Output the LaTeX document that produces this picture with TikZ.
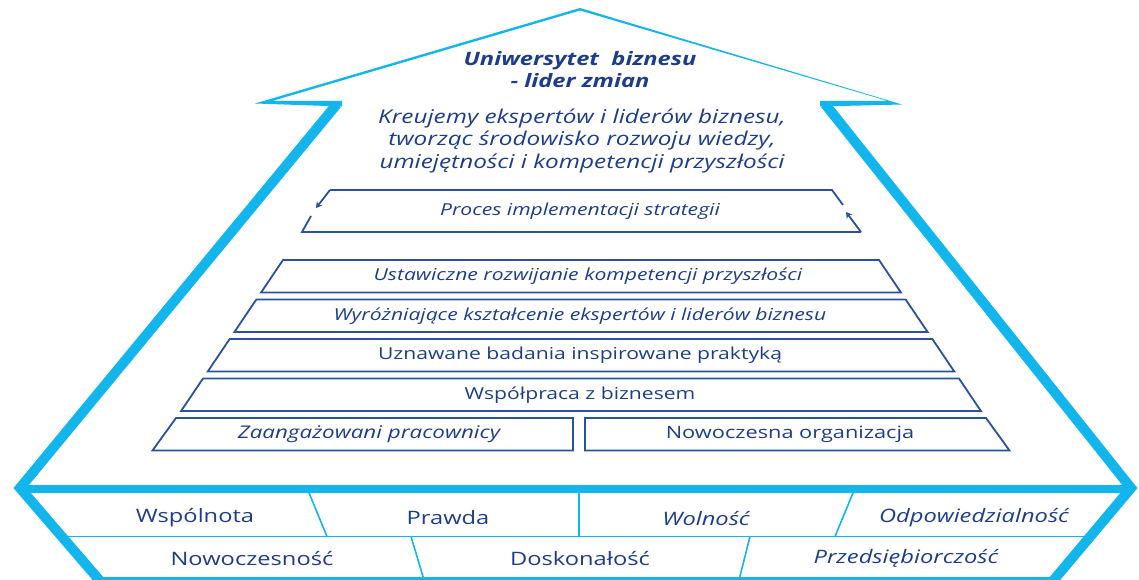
\documentclass[tikz,border=0pt]{standalone}
\usepackage{fontspec}
\setmainfont{Open Sans}[FakeStretch=1.28]
\usetikzlibrary{arrows.meta}

\definecolor{archcyan}{HTML}{12B6EC}
\definecolor{textnavy}{HTML}{1D3D8C}
\definecolor{boxnavy}{HTML}{2A519C}

\tikzset{
  arch/.style={draw=archcyan,line width=10pt,line join=miter},
  seam/.style={draw=archcyan,line width=1.6pt},
  stratum/.style={draw=boxnavy,line width=1.8pt,line join=miter},
  lbl/.style={text=textnavy,inner sep=0pt,font=\fontsize{16.5}{20}\selectfont},
  lbli/.style={lbl,font=\fontsize{16.5}{20}\selectfont\itshape},
  value/.style={text=textnavy,inner sep=0pt,font=\fontsize{18.5}{22}\selectfont},
  valuei/.style={value,font=\fontsize{18.5}{22}\selectfont\itshape},
  cycarrow/.style={draw=boxnavy,line width=1.8pt,-{Stealth[length=6pt,width=7pt]}},
}

\begin{document}
\begin{tikzpicture}[x=1pt,y=-1pt]
	\useasboundingbox (0,0) rectangle (1139,580);
	% base rows
	\draw[seam] (60,536.5) -- (1090,536.5);
	\draw[seam] (307,488) -- (327,536.5);
	\draw[seam] (579,488) -- (579,536.5);
	\draw[seam] (855,488) -- (835,536.5);
	\draw[seam] (411,536.5) -- (424,580);
	\draw[seam] (750,536.5) -- (739,580);
	% the big arrow
	\fill[archcyan] (580,8) -- (255,103.5) -- (342,106.5) -- (342,101) -- (272,101) -- (580,10.5) -- cycle;
	\fill[archcyan] (580,8) -- (902,104.5) -- (820,106.5) -- (820,101) -- (888,101) -- (580,10.5) -- cycle;
	\draw[arch] (337,104) -- (20,488) -- (101,582) -- (1052,582) -- (1131,488) -- (825,104);
	\draw[archcyan,line width=8pt] (20,488.5) -- (1131,488.5);
	% head texts
	\node[lbli,font=\fontsize{18.5}{22}\selectfont\bfseries\itshape,align=center] (motto) at (580,70) {Uniwersytet\ \ biznesu\\- lider zmian};
	\node[lbli,font=\fontsize{19}{22.5}\selectfont\itshape,align=center] (mission) at (582,141) {Kreujemy ekspertów i liderów biznesu,\\tworząc środowisko rozwoju wiedzy,\\umiejętności i kompetencji przyszłości};
	% strategy process
	\draw[stratum] (311,216) -- (302,232) -- (861,232);
	\draw[stratum] (843,205) -- (832,190) -- (330,190);
	\draw[cycarrow] (330,190) -- (316,208);
	\draw[cycarrow] (861,232) -- (846,212);
	\node[lbli] (process) at (580,211) {Proces implementacji strategii};
	% layers
	\foreach \i/\cx/\txt/\sty in {0/588/{Ustawiczne rozwijanie kompetencji przyszłości}/lbli,
		1/580/{Wyróżniające kształcenie ekspertów i liderów biznesu}/lbli,
		2/580/{Uznawane badania inspirowane praktyką}/lbl,
		3/580/{Współpraca z biznesem}/lbl}{
		\pgfmathsetmacro{\yt}{260+39.5*\i}
		\pgfmathsetmacro{\yb}{\yt+32.5}
		\pgfmathsetmacro{\wt}{298+0.675*(\yt-260)}
		\pgfmathsetmacro{\wb}{298+0.675*(\yb-260)}
		\draw[stratum] (581-\wt,\yt) -- (581+\wt,\yt) -- (581+\wb,\yb) -- (581-\wb,\yb) -- cycle;
		\node[\sty] (layer\i) at (\cx,\yt+16.25) {\txt};
	}
	\draw[stratum] (176,418) -- (573,418) -- (573,450.5) -- (152.5,450.5) -- cycle;
	\draw[stratum] (585,418) -- (986,418) -- (1009.5,450.5) -- (585,450.5) -- cycle;
	\node[lbli,font=\fontsize{17.5}{20}\selectfont\itshape] (staff) at (369,434) {Zaangażowani pracownicy};
	\node[lbl,font=\fontsize{17}{20}\selectfont] (org) at (790,434) {Nowoczesna organizacja};
	% values
	\node[value] (v1) at (195,518) {Wspólnota};
	\node[value] (v2) at (448,518) {Prawda};
	\node[valuei] (v3) at (706,518) {Wolność};
	\node[valuei] (v4) at (974,518) {Odpowiedzialność};
	\node[value] (v5) at (252,558) {Nowoczesność};
	\node[value] (v6) at (580,558) {Doskonałość};
	\node[valuei] (v7) at (906,558) {Przedsiębiorczość};
\end{tikzpicture}
\end{document}
